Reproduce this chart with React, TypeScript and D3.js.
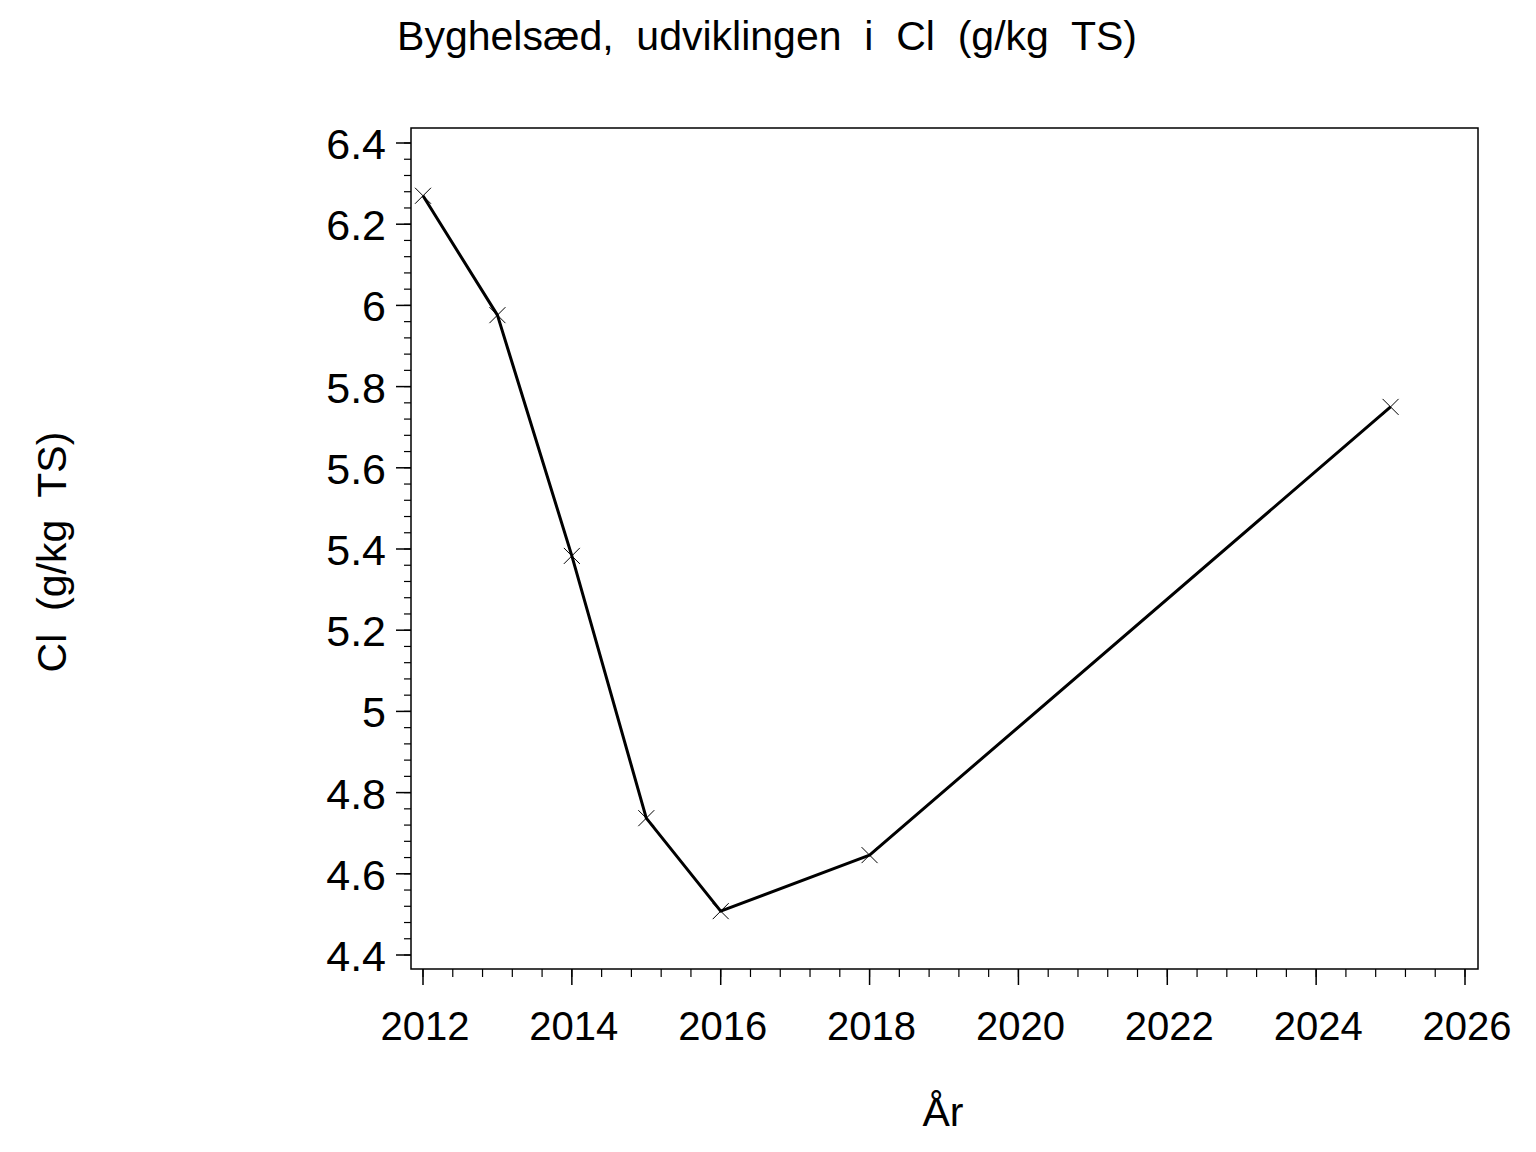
import React from "react";
import * as d3 from "d3";

const years = [2012, 2013, 2014, 2015, 2016, 2018, 2025];
const values = [6.27, 5.976, 5.383, 4.737, 4.508, 4.646, 5.75];
const yTicks = [4.4, 4.6, 4.8, 5, 5.2, 5.4, 5.6, 5.8, 6, 6.2, 6.4];
const xTicks = [2012, 2014, 2016, 2018, 2020, 2022, 2024, 2026];
const title = "Byghelsæd,  udviklingen  i  Cl  (g/kg  TS)";
const yLabel = "Cl  (g/kg  TS)";
const xLabel = "År";

export default function App() {
  const W = 1536, H = 1152;
  const frame = { l: 411, r: 1478, t: 128, b: 969 };
  const x = d3.scaleLinear().domain([2012, 2026]).range([423, 1465]);
  const y = d3.scaleLinear().domain([4.4, 6.4]).range([955, 143]);
  const yMinor = d3.range(4.4, 6.4001, 0.04).map((v) => +v.toFixed(2));
  const xMinor = d3.range(2012, 2026.001, 0.4).map((v) => +v.toFixed(1));
  const line = d3.line<number>().x((_, i) => x(years[i])).y((d) => y(d));
  const font = "'Liberation Sans', Arial, sans-serif";
  const pre = { whiteSpace: "pre" as const };
  return (
    <svg width={W} height={H} style={{ position: "absolute", left: 0, top: 0, background: "#fff" }}>
      <rect x={0} y={0} width={W} height={H} fill="#fff" />
      <text x={767} y={50} textAnchor="middle" fontFamily={font} fontSize={41} fill="#000" style={pre}>{title}</text>
      <rect x={frame.l} y={frame.t} width={frame.r - frame.l} height={frame.b - frame.t} fill="none" stroke="#000" strokeWidth={1.5} />
      {yMinor.map((v) => (
        <line key={"ym" + v} x1={frame.l - 7} x2={frame.l} y1={y(v)} y2={y(v)} stroke="#000" strokeWidth={1.2} />
      ))}
      {yTicks.map((v) => (
        <g key={"y" + v}>
          <line x1={frame.l - 15} x2={frame.l} y1={y(v)} y2={y(v)} stroke="#000" strokeWidth={1.5} />
          <text x={386} y={y(v) + 16} textAnchor="end" fontFamily={font} fontSize={43} fill="#000">{String(v)}</text>
        </g>
      ))}
      {xMinor.map((v) => (
        <line key={"xm" + v} x1={x(v)} x2={x(v)} y1={frame.b} y2={frame.b + 8} stroke="#000" strokeWidth={1.2} />
      ))}
      {xTicks.map((v) => (
        <g key={"x" + v}>
          <line x1={x(v)} x2={x(v)} y1={frame.b} y2={frame.b + 16} stroke="#000" strokeWidth={1.5} />
          <text x={x(v) + 2} y={1040} textAnchor="middle" fontFamily={font} fontSize={40} fill="#000">{String(v)}</text>
        </g>
      ))}
      <text x={943} y={1126} textAnchor="middle" fontFamily={font} fontSize={41} fill="#000">{xLabel}</text>
      <text transform="translate(66,552) rotate(-90)" textAnchor="middle" fontFamily={font} fontSize={41} fill="#000" style={pre}>{yLabel}</text>
      <path d={line(values) || ""} fill="none" stroke="#000" strokeWidth={3} strokeLinejoin="round" />
      {values.map((v, i) => (
        <g key={"m" + i} stroke="#000" strokeWidth={1}>
          <line x1={x(years[i]) - 8} x2={x(years[i]) + 8} y1={y(v) - 8} y2={y(v) + 8} />
          <line x1={x(years[i]) - 8} x2={x(years[i]) + 8} y1={y(v) + 8} y2={y(v) - 8} />
        </g>
      ))}
    </svg>
  );
}
